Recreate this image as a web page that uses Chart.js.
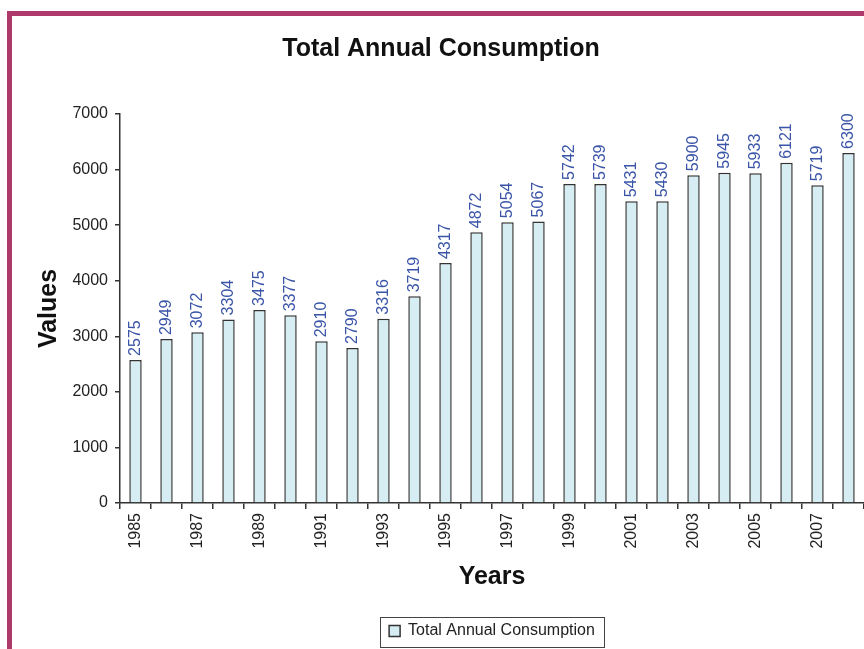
<!DOCTYPE html>
<html>
<head>
<meta charset="utf-8">
<script src="https://cdn.jsdelivr.net/npm/chart.js@4"></script>
<style>
  html, body { margin: 0; padding: 0; background: #fff; overflow: hidden; }
  #frame {
    position: absolute;
    left: 7px; top: 11px;
    width: 852px; height: 633px;
    border-left: 5px solid #ae3a6c;
    border-top: 5px solid #ae3a6c;
  }
  #chart { display: block; }
</style>
</head>
<body>
<div id="frame">
  <canvas id="chart" width="852" height="633"></canvas>
</div>
<script>
const years = ["1985", "1986", "1987", "1988", "1989", "1990", "1991", "1992",
  "1993", "1994", "1995", "1996", "1997", "1998", "1999", "2000",
  "2001", "2002", "2003", "2004", "2005", "2006", "2007", "2008"];
const consumption = [2575, 2949, 3072, 3304, 3475, 3377, 2910, 2790,
  3316, 3719, 4317, 4872, 5054, 5067, 5742, 5739,
  5431, 5430, 5900, 5945, 5933, 6121, 5719, 6300];
const yTicks = [0, 1000, 2000, 3000, 4000, 5000, 6000, 7000];

const FONT = "Arial, 'Liberation Sans', sans-serif";

// Rotated value labels above each bar
const valueLabels = {
  id: "valueLabels",
  afterDatasetsDraw(chart) {
    const ctx = chart.ctx;
    const meta = chart.getDatasetMeta(0);
    ctx.save();
    ctx.fillStyle = "#3a55a8";
    ctx.font = "16px " + FONT;
    ctx.textAlign = "left";
    ctx.textBaseline = "middle";
    meta.data.forEach((bar, i) => {
      ctx.save();
      ctx.translate(bar.x, bar.y - 4);
      ctx.rotate(-Math.PI / 2);
      ctx.fillText(String(consumption[i]), 0, 0);
      ctx.restore();
    });
    ctx.restore();
  }
};

// Frame around the legend
const legendFrame = {
  id: "legendFrame",
  afterDraw(chart) {
    const box = chart.legend.legendHitBoxes[0];
    if (!box) return;
    const ctx = chart.ctx;
    ctx.save();
    ctx.strokeStyle = "#444";
    ctx.lineWidth = 1;
    ctx.strokeRect(Math.round(box.left - 9) + 0.5, Math.round(box.top - 6) + 0.5,
      Math.round(box.width + 18), Math.round(box.height + 14));
    ctx.restore();
  }
};

new Chart(document.getElementById("chart"), {
  type: "bar",
  data: {
    labels: years,
    datasets: [{
      label: "Total Annual Consumption",
      data: consumption,
      backgroundColor: "#d5edf3",
      borderColor: "#333",
      borderWidth: 1.5,
      categoryPercentage: 1,
      barPercentage: 0.4
    }]
  },
  options: {
    responsive: false,
    animation: false,
    layout: { padding: { left: 6, right: 0, top: 0, bottom: 0 } },
    plugins: {
      title: {
        display: true,
        text: "Total Annual Consumption",
        color: "#111",
        font: { family: FONT, size: 25, weight: "bold" },
        padding: { top: 18, bottom: 50 }
      },
      legend: {
        position: "bottom",
        fullSize: false,
        labels: {
          color: "#222",
          font: { family: FONT, size: 16 },
          boxWidth: 11,
          boxHeight: 11,
          padding: 6
        }
      },
      tooltip: { enabled: false }
    },
    scales: {
      x: {
        grid: { display: true, drawOnChartArea: false, drawTicks: true, tickLength: 6, color: "#333", lineWidth: 1.5 },
        border: { display: true, color: "#333", width: 1.5 },
        ticks: {
          autoSkip: false,
          minRotation: 90,
          maxRotation: 90,
          padding: 4,
          color: "#222",
          font: { family: FONT, size: 16 },
          callback: (v, i) => (i % 2 === 0 ? years[i] : "")
        },
        title: {
          display: true,
          text: "Years",
          color: "#111",
          font: { family: FONT, size: 25, weight: "bold" },
          padding: { top: 6, bottom: 25 }
        },
        afterFit: (scale) => {
          scale.height = 114;
          scale.paddingLeft = 0;
          scale.paddingRight = 0;
        }
      },
      y: {
        min: 0,
        max: 7000,
        afterBuildTicks: (scale) => { scale.ticks = yTicks.map(v => ({ value: v })); },
        grid: { display: true, drawOnChartArea: false, drawTicks: true, tickLength: 5, color: "#333", lineWidth: 1.5 },
        border: { display: true, color: "#333", width: 1.5 },
        ticks: {
          color: "#222",
          font: { family: FONT, size: 16 },
          padding: 7,
          callback: (v) => String(v)
        },
        title: {
          display: true,
          text: "Values",
          color: "#111",
          font: { family: FONT, size: 25, weight: "bold" },
          padding: { top: 16, bottom: 0 }
        },
        afterFit: (scale) => { scale.width = 102; }
      }
    }
  },
  plugins: [valueLabels, legendFrame]
});
</script>
</body>
</html>
